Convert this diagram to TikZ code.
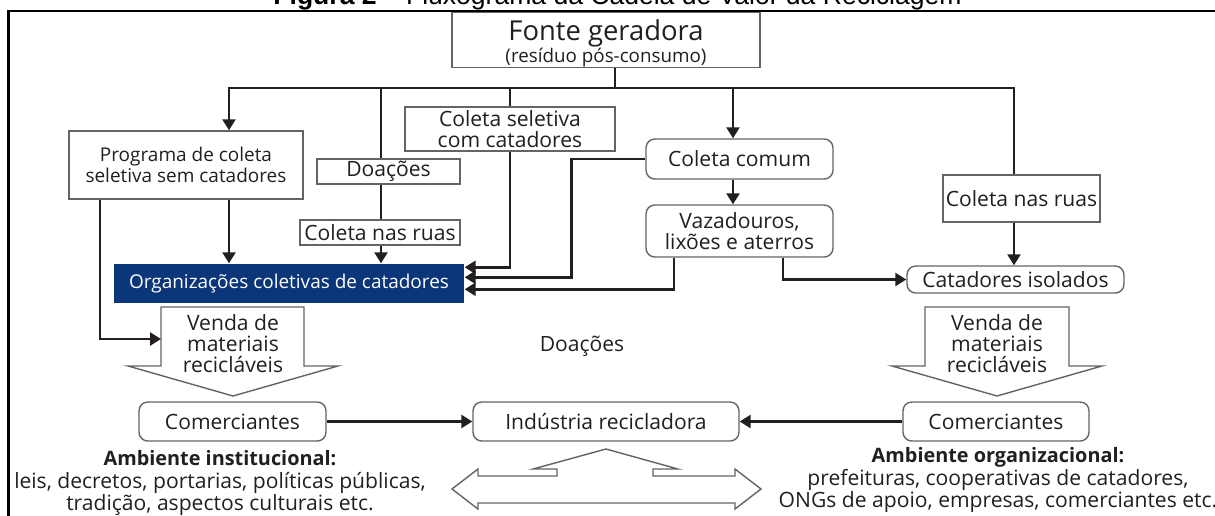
\documentclass[tikz,border=0pt]{standalone}
\usepackage{fontspec}
\setmainfont{Open Sans}
\newfontfamily\titlefont{Liberation Sans}
\usetikzlibrary{arrows.meta,calc}

\definecolor{orgblue}{RGB}{12,54,122}
\definecolor{ink}{RGB}{35,31,32}
\definecolor{edge}{RGB}{100,100,100}

\tikzstyle{box} = [rectangle, draw=edge, line width=0.8pt, fill=white, text=ink,
align=center, inner sep=0pt, font=\fontsize{12}{12}\selectfont]
\tikzstyle{rbox} = [box, rounded corners=5pt]
\tikzstyle{orgbox} = [box, draw=none, fill=orgblue, text=white]
\tikzstyle{bus} = [draw=ink, line width=1.4pt]
\tikzstyle{line} = [bus, -{Triangle[length=0.22cm,width=0.26cm]}]
\tikzstyle{bigarrow} = [draw=edge, line width=0.8pt, fill=white]
\tikzstyle{note} = [text=ink, align=center, inner sep=0pt, font=\fontsize{12}{12}\selectfont]

\begin{document}
\begin{tikzpicture}[x=0.02cm, y=-0.02cm]
	\useasboundingbox (0,0) rectangle (1215,515);

	%Frame and title
	\node[anchor=base, text=black, font=\titlefont\fontsize{15.1}{18}\selectfont] (titulo) at (617.5,4.5) {\textbf{Figura 2} – Fluxograma da Cadeia de Valor da Reciclagem};
	\draw[line width=1.4pt] (1240,11) -- (8.5,11) -- (8.5,530);

	%Big arrows
	\draw[bigarrow] (161,307) -- (304,307) -- (304,366) -- (338,366) -- (233,396) -- (128,366) -- (161,366) -- cycle;
	\draw[bigarrow] (925,307) -- (1069,307) -- (1069,366) -- (1102,366) -- (997,396) -- (892,366) -- (925,366) -- cycle;
	\draw[bigarrow] (452,489) -- (478,469) -- (478,476) -- (557,476) -- (557,469) -- (533,469) -- (606,449) -- (678,469)
		-- (653,469) -- (653,476) -- (735,476) -- (735,469) -- (761,489) -- (735,509) -- (735,503) -- (478,503) -- (478,509) -- cycle;

	%Nodes
	\node[box, minimum width=6.16cm, minimum height=0.96cm, font=\fontsize{10.7}{12.5}\selectfont] (fonte) at (606,40)
		{\rule{0pt}{16pt}{\fontsize{15.6}{12.5}\selectfont Fonte geradora}\\(resíduo pós-consumo)};
	\node[box, minimum width=4.68cm, minimum height=1.36cm, font=\fontsize{10.8}{12}\selectfont] (prog) at (186,165) {Programa de coleta\\seletiva sem catadores};
	\node[box, minimum width=2.86cm, minimum height=0.5cm] (doa) at (388.5,171.5) {Doações};
	\node[box, minimum width=3.2cm, minimum height=0.5cm] (ruasL) at (380,232.5) {Coleta nas ruas};
	\node[box, minimum width=4.2cm, minimum height=0.88cm] (selet) at (510,129) {Coleta seletiva\\com catadores};
	\node[rbox, minimum width=3.74cm, minimum height=0.8cm] (comum) at (739.5,159) {Coleta comum};
	\node[rbox, minimum width=3.74cm, minimum height=1.04cm] (vaza) at (739.5,231) {Vazadouros,\\lixões e aterros};
	\node[box, minimum width=3.14cm, minimum height=0.94cm] (ruasR) at (1021.5,198.5) {Coleta nas ruas};
	\node[rbox, minimum width=4.34cm, minimum height=0.54cm] (isol) at (1015.5,279.5) {Catadores isolados};
	\node[orgbox, minimum width=7cm, minimum height=0.78cm, font=\fontsize{10.8}{12}\selectfont] (org) at (289,283.5) {Organizações coletivas de catadores};
	\node[rbox, minimum width=3.74cm, minimum height=0.78cm] (comL) at (232.5,421.5) {Comerciantes};
	\node[rbox, minimum width=5.32cm, minimum height=0.78cm] (ind) at (606,421.5) {Indústria recicladora};
	\node[rbox, minimum width=3.72cm, minimum height=0.78cm] (comR) at (996,421.5) {Comerciantes};

	\node[note] (vendaL) at (233,344) {Venda de\\materiais\\recicláveis};
	\node[note] (vendaR) at (997,344) {Venda de\\materiais\\recicláveis};
	\node[note] (doacoes) at (582,346) {Doações};
	\node[note, font=\fontsize{12}{13}\selectfont] (ambI) at (220,483)
		{{\fontsize{11.3}{13}\selectfont\bfseries Ambiente institucional:}\\leis, decretos, portarias, políticas públicas,\\tradição, aspectos culturais etc.};
	\node[note, font=\fontsize{12}{13}\selectfont] (ambO) at (998,480)
		{{\fontsize{11.3}{13}\selectfont\bfseries Ambiente organizacional:}\\prefeituras, cooperativas de catadores,\\ONGs de apoio, empresas, comerciantes etc.};

	%Lines
	\coordinate (hub) at (615,88);
	\coordinate (busL) at (229,88);
	\coordinate (b1) at (381,88);
	\coordinate (b2) at (510,88);
	\coordinate (b3) at (733,88);
	\coordinate (busR) at (1014,88);
	\coordinate (progL) at (100,339);
	\coordinate (vendaLin) at (161,339);
	\coordinate (in1) at ($(org.north east)+(0,4)$);
	\coordinate (in2) at ($(org.north east)+(0,14)$);
	\coordinate (in3) at ($(org.north east)+(0,26)$);

	\path[bus] (fonte.south -| hub) -- (hub);
	\path[line] (hub) -| (prog.north -| busL);
	\path[bus] (hub) -| (ruasR.north -| busR);
	\path[bus] (b1) -- (doa.north -| b1);
	\path[bus] (doa.south -| b1) -- (ruasL.north -| b1);
	\path[line] (ruasL.south -| b1) -- (org.north -| b1);
	\path[bus] (b2) -- (selet.north -| b2);
	\path[line] (b3) -- (comum.north -| b3);
	\path[line] (prog.south -| busL) -- (org.north -| busL);
	\path[line] (prog.south -| progL) |- (vendaLin);
	\path[line] (selet.south) |- (in1);
	\path[line] (comum.west) -- ++(-74,0) |- (in2);
	\path[line] ($(vaza.south)+(-65.5,0)$) |- (in3);
	\path[line] ($(vaza.south)+(43.5,0)$) |- (isol.west);
	\path[line] (comum.south -| b3) -- (vaza.north -| b3);
	\path[line] (ruasR.south -| busR) -- (isol.north -| busR);
	\path[line] (comL) -- (ind);
	\path[line] (comR) -- (ind);
\end{tikzpicture}
\end{document}
